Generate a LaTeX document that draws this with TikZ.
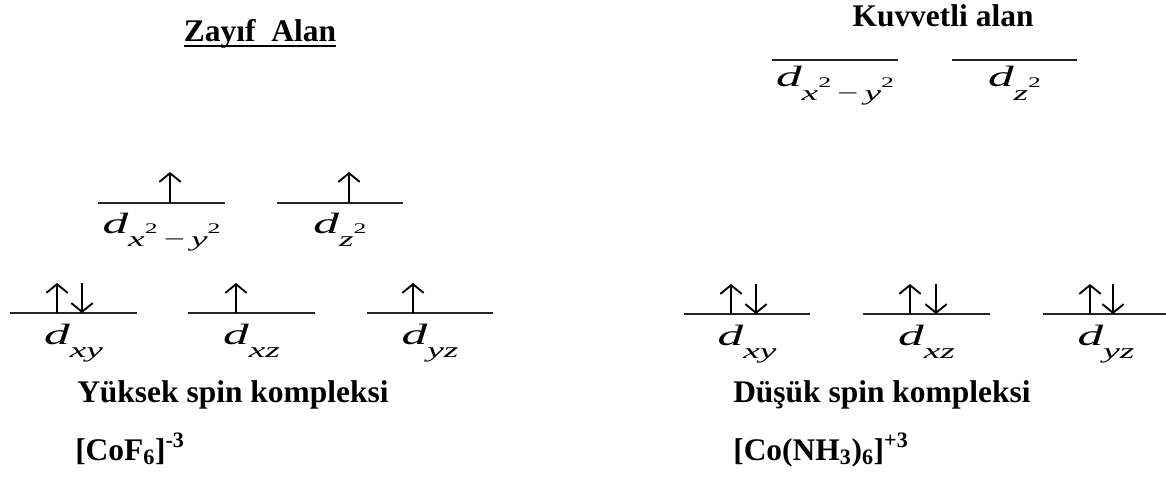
\documentclass[tikz,border=0pt]{standalone}
\usepackage{fontspec}
\setmainfont{Liberation Serif}
\usepackage{graphicx}
\usetikzlibrary{arrows.meta}
\newcommand{\orbd}[1]{\scalebox{1.75}[1]{\fontsize{22}{22}\selectfont\itshape d\raisebox{-0.45em}{\fontsize{16}{16}\selectfont #1}}}
\newcommand{\sqq}{\raisebox{0.6em}{\fontsize{11}{11}\selectfont\upshape 2}}
\newcommand{\xsy}{x\sqq{\upshape\,−\,}y\sqq}
\tikzset{
  lvl/.style={line width=1.1pt, draw=black!85},
  elec/.style={line width=1.4pt, -{Straight Barb[length=6.5pt,width=16pt]}},
  lab/.style={inner sep=0pt, anchor=base},
  ttl/.style={inner sep=0pt, font=\fontsize{23.6}{28}\selectfont\bfseries},
}
\begin{document}
\begin{tikzpicture}[x=0.75pt,y=-0.75pt]
\useasboundingbox (0,0) rectangle (1166,481);
% titles
\node[ttl, anchor=base] (za) at (260,42) {Zayıf~~Alan};
\draw[line width=2.2pt] ([yshift=-3pt]za.base west) -- ([yshift=-3pt]za.base east);
\node[ttl, anchor=base] (ku) at (943,27) {Kuvvetli alan};
% left eg
\coordinate (le1a) at (98,203); \coordinate (le1b) at (225,203);
\coordinate (le2a) at (277,203); \coordinate (le2b) at (403,203);
\draw[lvl] (le1a) -- (le1b);
\draw[lvl] (le2a) -- (le2b);
\coordinate (u1a) at (170,203); \coordinate (u1b) at (170,172);
\coordinate (u2a) at (349,203); \coordinate (u2b) at (349,172);
\draw[elec] (u1a) -- (u1b);
\draw[elec] (u2a) -- (u2b);
\node[lab] (lx2) at (161.5,233) {\orbd{\xsy}};
\node[lab] (lz2) at (340,233) {\orbd{z\sqq}};
% left t2g
\coordinate (lt1a) at (10,313); \coordinate (lt1b) at (137,313);
\coordinate (lt2a) at (188,313); \coordinate (lt2b) at (315,313);
\coordinate (lt3a) at (367,313); \coordinate (lt3b) at (493,313);
\draw[lvl] (lt1a) -- (lt1b);
\draw[lvl] (lt2a) -- (lt2b);
\draw[lvl] (lt3a) -- (lt3b);
\coordinate (a1) at (57,313); \coordinate (a1t) at (57,283);
\coordinate (a2) at (82,283); \coordinate (a2t) at (82,313);
\coordinate (a3) at (236,313); \coordinate (a3t) at (236,283);
\coordinate (a4) at (413,313); \coordinate (a4t) at (413,283);
\draw[elec] (a1) -- (a1t);
\draw[elec] (a2) -- (a2t);
\draw[elec] (a3) -- (a3t);
\draw[elec] (a4) -- (a4t);
\node[lab] (lxy) at (73.5,344) {\orbd{xy}};
\node[lab] (lxz) at (251.5,344) {\orbd{xz}};
\node[lab] (lyz) at (430,344) {\orbd{yz}};
% right eg
\coordinate (re1a) at (772,60); \coordinate (re1b) at (898,60);
\coordinate (re2a) at (952,60); \coordinate (re2b) at (1077,60);
\draw[lvl] (re1a) -- (re1b);
\draw[lvl] (re2a) -- (re2b);
\node[lab] (rx2) at (835,87) {\orbd{\xsy}};
\node[lab] (rz2) at (1014.5,87) {\orbd{z\sqq}};
% right t2g
\coordinate (rt1a) at (684,314); \coordinate (rt1b) at (810,314);
\coordinate (rt2a) at (863,314); \coordinate (rt2b) at (990,314);
\coordinate (rt3a) at (1043,314); \coordinate (rt3b) at (1166,314);
\draw[lvl] (rt1a) -- (rt1b);
\draw[lvl] (rt2a) -- (rt2b);
\draw[lvl] (rt3a) -- (rt3b);
\coordinate (b1) at (731,314); \coordinate (b1t) at (731,284);
\coordinate (b2) at (756,284); \coordinate (b2t) at (756,314);
\coordinate (b3) at (910,314); \coordinate (b3t) at (910,284);
\coordinate (b4) at (936,284); \coordinate (b4t) at (936,314);
\coordinate (b5) at (1090,314); \coordinate (b5t) at (1090,284);
\coordinate (b6) at (1113,284); \coordinate (b6t) at (1113,314);
\draw[elec] (b1) -- (b1t);
\draw[elec] (b2) -- (b2t);
\draw[elec] (b3) -- (b3t);
\draw[elec] (b4) -- (b4t);
\draw[elec] (b5) -- (b5t);
\draw[elec] (b6) -- (b6t);
\node[lab] (rxy) at (747,345) {\orbd{xy}};
\node[lab] (rxz) at (926.5,345) {\orbd{xz}};
\node[lab] (ryz) at (1106,345) {\orbd{yz}};
% bottom texts
\node[ttl, anchor=base west] (ys) at (77,402) {Yüksek spin kompleksi};
\node[ttl, anchor=base west] (cf) at (75,460) {[CoF\textsubscript{6}]\textsuperscript{-3}};
\node[ttl, anchor=base west] (ds) at (733,402) {Düşük spin kompleksi};
\node[ttl, anchor=base west] (cn) at (733,460) {[Co(NH\textsubscript{3})\textsubscript{6}]\textsuperscript{+3}};
\end{tikzpicture}
\end{document}
